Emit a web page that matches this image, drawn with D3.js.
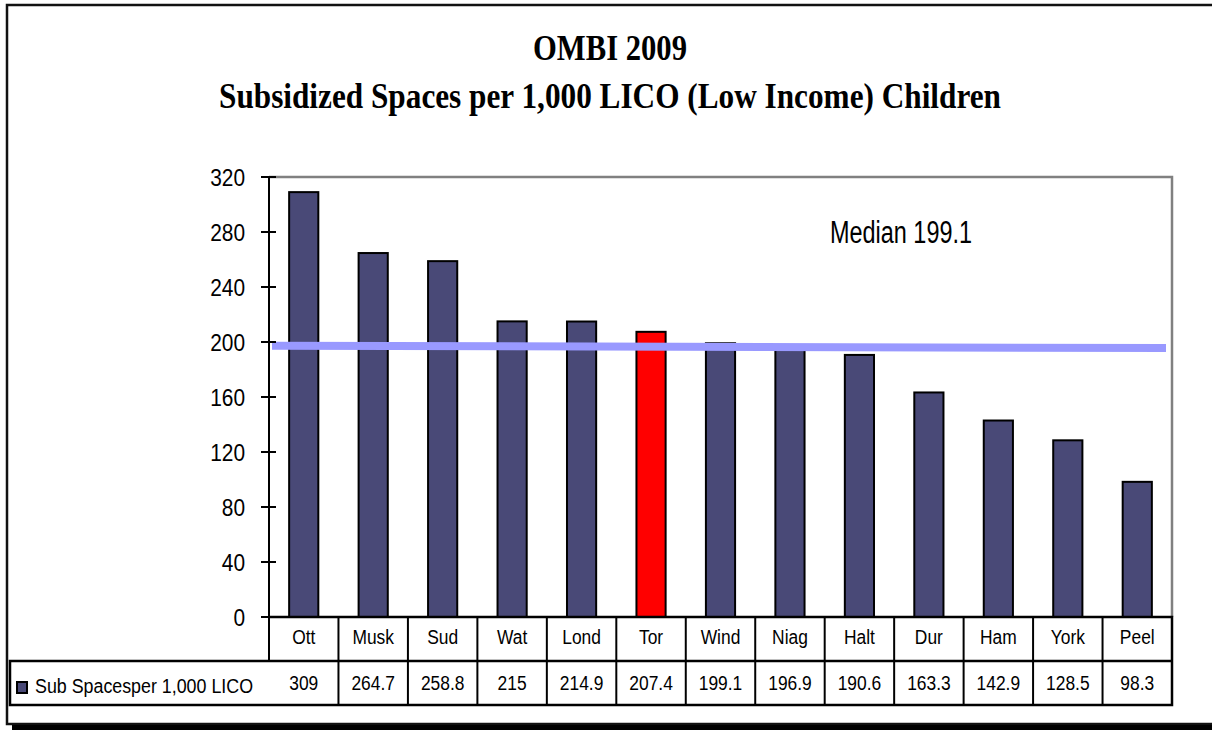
<!DOCTYPE html>
<html>
<head>
<meta charset="utf-8">
<script src="https://cdn.jsdelivr.net/npm/d3@7"></script>
<style>
  body { margin: 0; background: #fff; }
  text { font-family: "Liberation Sans", Arial, sans-serif; fill: #000; }
</style>
</head>
<body>
<svg id="chart"></svg>
<script>
// data
const categories = ["Ott", "Musk", "Sud", "Wat", "Lond", "Tor", "Wind", "Niag", "Halt", "Dur", "Ham", "York", "Peel"];
const values = [309, 264.7, 258.8, 215, 214.9, 207.4, 199.1, 196.9, 190.6, 163.3, 142.9, 128.5, 98.3];
const yTicks = [0, 40, 80, 120, 160, 200, 240, 280, 320];
const highlight = "Tor";
const seriesName = "Sub Spacesper 1,000 LICO";
const medianValue = 199.1;
const medianEnds = [197.3, 195.6]; // drawn line is slightly tilted in the original
const titleLines = ["OMBI 2009", "Subsidized Spaces per 1,000 LICO (Low Income) Children"];

const width = 1212;
const height = 730;
const plot = { left: 269, right: 1172, top: 177, bottom: 617 };
const rowH = 44;
const tableLeft = 10;

const barColor = "#494977";
// the original fonts are narrow and tall, squeeze them a bit
const squeeze = 0.87;

const svg = d3.select("#chart").attr("width", width).attr("height", height);

// outer frame + shadow
svg.append("rect")
  .attr("x", 7).attr("y", 5)
  .attr("width", width).attr("height", 719)
  .attr("fill", "#fff")
  .attr("stroke", "#111").attr("stroke-width", 2.5);
svg.append("rect")
  .attr("x", 12).attr("y", 725)
  .attr("width", width).attr("height", 5)
  .attr("fill", "#000");

// title
const titleX = 610;
svg.append("text")
  .attr("x", titleX).attr("y", 60)
  .attr("text-anchor", "middle")
  .style("font-family", "'Liberation Serif', 'Times New Roman', serif")
  .style("font-weight", "bold")
  .style("font-size", "35px")
  .attr("textLength", 154).attr("lengthAdjust", "spacingAndGlyphs")
  .text(titleLines[0]);
svg.append("text")
  .attr("x", titleX).attr("y", 108)
  .attr("text-anchor", "middle")
  .style("font-family", "'Liberation Serif', 'Times New Roman', serif")
  .style("font-weight", "bold")
  .style("font-size", "35px")
  .attr("textLength", 782).attr("lengthAdjust", "spacingAndGlyphs")
  .text(titleLines[1]);

// scales
const x = d3.scaleBand()
  .domain(categories)
  .range([plot.left, plot.right])
  .paddingInner(0.58)
  .paddingOuter(0.29);

const y = d3.scaleLinear().domain([0, 320]).range([plot.bottom, plot.top]);

const step = x.step();
const colLeft = (c) => x(c) - step * x.paddingInner() / 2;
const mid = (c) => x(c) + x.bandwidth() / 2;

// plot border (gray top + right)
svg.append("path")
  .attr("d", `M${plot.left},${plot.top} H${plot.right} V${plot.bottom}`)
  .attr("fill", "none")
  .attr("stroke", "#808080")
  .attr("stroke-width", 2.5);

// bars
svg.append("g")
  .selectAll("rect")
  .data(categories)
  .join("rect")
  .attr("x", (d) => x(d))
  .attr("y", (d, i) => y(values[i]))
  .attr("width", x.bandwidth())
  .attr("height", (d, i) => y(0) - y(values[i]))
  .attr("fill", (d) => (d === highlight ? "#ff0000" : barColor))
  .attr("stroke", "#000")
  .attr("stroke-width", 2);

// median line
svg.append("line")
  .attr("x1", plot.left + 3)
  .attr("x2", plot.right - 6)
  .attr("y1", y(medianEnds[0]))
  .attr("y2", y(medianEnds[1]))
  .attr("stroke", "#9999ff")
  .attr("stroke-width", 8);

svg.append("text")
  .attr("x", 830).attr("y", 243)
  .style("font-size", "31px")
  .attr("textLength", 142).attr("lengthAdjust", "spacingAndGlyphs")
  .text(`Median ${medianValue}`);

// y axis
const yAxis = svg.append("g");
yAxis.append("line")
  .attr("x1", plot.left).attr("x2", plot.left)
  .attr("y1", plot.top).attr("y2", plot.bottom + rowH)
  .attr("stroke", "#000").attr("stroke-width", 2);
yAxis.selectAll("line.tick")
  .data(yTicks)
  .join("line")
  .attr("class", "tick")
  .attr("x1", plot.left - 8).attr("x2", plot.left + 7)
  .attr("y1", (d) => y(d)).attr("y2", (d) => y(d))
  .attr("stroke", "#000").attr("stroke-width", 2);
yAxis.selectAll("text")
  .data(yTicks)
  .join("text")
  .attr("transform", (d) => `translate(245,${y(d)}) scale(${squeeze},1)`)
  .attr("dy", "0.36em")
  .attr("text-anchor", "end")
  .style("font-size", "24px")
  .text((d) => d);

// data table
const table = svg.append("g");
const row1 = plot.bottom;
const row2 = plot.bottom + rowH;
const row3 = plot.bottom + rowH * 2;

table.append("path")
  .attr("d", `M${plot.left},${row1} H${plot.right} V${row3} H${tableLeft} V${row2} H${plot.right}`)
  .attr("fill", "none")
  .attr("stroke", "#000").attr("stroke-width", 2.5);

table.selectAll("line.col")
  .data(categories.slice(1))
  .join("line")
  .attr("class", "col")
  .attr("x1", (d) => colLeft(d)).attr("x2", (d) => colLeft(d))
  .attr("y1", row1).attr("y2", row3)
  .attr("stroke", "#000").attr("stroke-width", 2);

table.selectAll("text.cat")
  .data(categories)
  .join("text")
  .attr("class", "cat")
  .attr("transform", (d) => `translate(${mid(d)},${row1 + 27}) scale(${squeeze},1)`)
  .attr("text-anchor", "middle")
  .style("font-size", "20px")
  .text((d) => d);

table.selectAll("text.val")
  .data(values)
  .join("text")
  .attr("class", "val")
  .attr("transform", (d, i) => `translate(${mid(categories[i])},${row2 + 29}) scale(${squeeze},1)`)
  .attr("text-anchor", "middle")
  .style("font-size", "20px")
  .text((d) => d);

// legend key inside table
table.append("rect")
  .attr("x", 17).attr("y", row2 + 21)
  .attr("width", 10).attr("height", 11)
  .attr("fill", barColor)
  .attr("stroke", "#000").attr("stroke-width", 2);
table.append("text")
  .attr("x", 35).attr("y", row2 + 32)
  .style("font-size", "20px")
  .attr("textLength", 218).attr("lengthAdjust", "spacingAndGlyphs")
  .text(seriesName);
</script>
</body>
</html>
